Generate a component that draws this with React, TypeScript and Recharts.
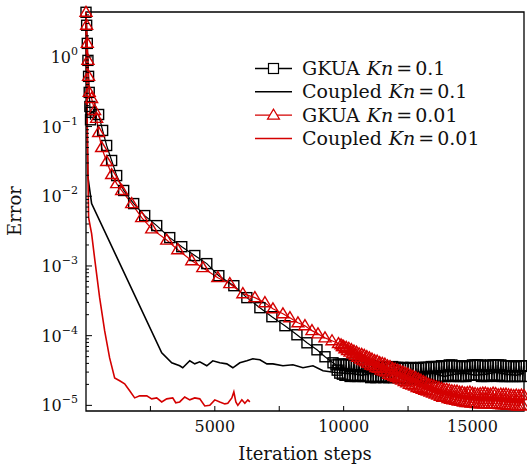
import React from 'react';
import { LineChart, Line, XAxis, YAxis, ReferenceArea } from 'recharts';

const FONT = '"DejaVu Serif", serif';
const RED = '#d40000';
const TAIL_STEP = 50; // tails are sampled every 50 iterations

// [iteration, error]
const gkuaKn01Head: [number, number][] = [
  [0, 4.36], [25, 2.84], [50, 1.56], [75, 0.89], [100, 0.525], [125, 0.309],
  [150, 0.194], [175, 0.125], [200, 0.16], [490, 0.149], [645, 0.088],
  [801, 0.0535], [995, 0.0326], [1190, 0.0198], [1462, 0.0121], [1850, 0.00785],
  [2278, 0.00528], [2744, 0.00379], [3250, 0.00255], [3716, 0.00189],
  [4222, 0.00141], [4688, 0.00108], [5155, 0.000725], [5738, 0.000521],
  [6243, 0.000351], [6749, 0.000252], [7215, 0.000187], [7720, 0.000139],
  [8187, 0.000103], [8576, 7.9e-5], [8965, 6.27e-5], [9276, 4.98e-5], [9587, 4.08e-5],
];
const gkuaKn01TailStart = 9700;
const gkuaKn01TailE5 = [
  3.8, 3.2, 3.9, 2.9, 3.9, 2.8, 3.9, 2.7, 3.8, 2.7, 3.9, 2.6, 3.8, 2.7, 3.8, 2.6,
  3.8, 2.6, 3.7, 2.7, 3.7, 2.6, 3.6, 2.6, 3.7, 2.6, 3.6, 2.5, 3.7, 2.6, 3.6, 2.5,
  3.6, 2.6, 3.5, 2.6, 3.6, 2.5, 3.6, 2.6, 3.5, 2.5, 3.5, 2.6, 3.6, 2.5, 3.5, 2.6,
  3.5, 2.5, 3.4, 2.5, 3.5, 2.5, 3.4, 2.4, 3.4, 2.5, 3.5, 2.5, 3.4, 2.4, 3.4, 2.5,
  3.4, 2.5, 3.5, 2.5, 3.5, 2.5, 3.5, 2.6, 3.5, 2.5, 3.6, 2.5, 3.6, 2.6, 3.6, 2.5,
  3.6, 2.6, 3.7, 2.6, 3.7, 2.6, 3.7, 2.7, 3.8, 2.6, 3.8, 2.6, 3.7, 2.7, 3.7, 2.6,
  3.7, 2.6, 3.6, 2.6, 3.6, 2.6, 3.7, 2.7, 3.7, 2.7, 3.8, 2.7, 3.8, 2.7, 3.8, 2.7,
  3.8, 2.6, 3.7, 2.6, 3.7, 2.6, 3.7, 2.7, 3.8, 2.7, 3.8, 2.7, 3.8, 2.6, 3.8, 2.7,
  3.8, 2.6, 3.7, 2.6, 3.7, 2.6, 3.7, 2.6, 3.7, 2.6, 3.6, 2.6, 3.6, 2.6, 3.7, 2.6,
  3.7, 2.6, 3.7,
];

const coupledKn01: [number, number][] = [
  [0, 4.36], [45, 0.1], [70, 0.0195], [218, 0.00785], [2939, 5.68e-5],
  [3327, 4.08e-5], [3637, 3.7e-5], [3755, 3.46e-5], [4027, 4.36e-5], [4221, 3.94e-5],
  [4416, 4.21e-5], [4688, 3.7e-5], [4921, 4.36e-5], [5193, 4.08e-5], [5465, 3.94e-5],
  [5699, 3.46e-5], [5971, 4.08e-5], [6243, 4.36e-5], [6476, 4.66e-5], [6749, 4.5e-5],
  [7021, 3.94e-5], [7254, 3.94e-5], [7643, 3.7e-5], [8031, 3.82e-5], [8420, 3.46e-5],
  [8809, 3.7e-5], [9198, 3.13e-5], [9742, 2.93e-5], [10364, 2.84e-5], [10700, 2.7e-5],
  [11100, 2.9e-5], [11500, 2.6e-5], [11900, 2.8e-5], [12300, 3.0e-5], [12700, 2.7e-5],
  [13100, 2.8e-5], [13500, 2.9e-5], [13900, 2.6e-5], [14300, 2.8e-5], [14700, 2.9e-5],
  [15100, 2.7e-5], [15500, 2.8e-5], [15900, 3.0e-5], [16300, 2.8e-5], [16700, 2.7e-5],
  [17000, 2.9e-5],
];

const gkuaKn001Head: [number, number][] = [
  [0, 4.36], [25, 2.84], [50, 1.56], [75, 0.89], [100, 0.525], [125, 0.309],
  [218, 0.253], [334, 0.17], [412, 0.131], [490, 0.082], [606, 0.05], [801, 0.0315],
  [995, 0.0205], [1190, 0.0152], [1384, 0.0121], [1773, 0.00785], [2161, 0.00494],
  [2550, 0.0034], [3133, 0.00235], [3561, 0.00171], [4105, 0.00119], [4533, 0.000945],
  [5116, 0.000679], [5582, 0.000557], [6088, 0.0004], [6555, 0.000351], [6944, 0.000297],
  [7255, 0.000243], [7643, 0.000206], [7915, 0.000181], [8226, 0.000153], [8498, 0.000139],
  [8770, 0.000118], [9004, 0.000106], [9276, 9.3e-5], [9548, 8.45e-5], [9800, 7.7e-5],
];
const gkuaKn001TailStart = 9900;
const gkuaKn001TailE5 = [
  7.4, 7.0, 7.0, 6.5, 6.8, 6.1, 6.6, 5.8, 6.3, 5.5, 6.0, 5.2, 5.8, 4.9, 5.5, 4.6,
  5.4, 4.4, 5.2, 4.2, 5.0, 4.0, 4.8, 3.8, 4.6, 3.7, 4.4, 3.5, 4.3, 3.4, 4.1, 3.2,
  4.0, 3.1, 3.9, 3.0, 3.7, 2.8, 3.6, 2.7, 3.4, 2.6, 3.3, 2.5, 3.2, 2.4, 3.1, 2.3,
  3.0, 2.2, 2.9, 2.1, 2.8, 2.0, 2.7, 1.95, 2.6, 1.9, 2.5, 1.8, 2.4, 1.75, 2.3, 1.7,
  2.2, 1.65, 2.1, 1.6, 2.0, 1.55, 1.95, 1.5, 1.9, 1.45, 1.85, 1.4, 1.8, 1.35, 1.75, 1.3,
  1.7, 1.3, 1.7, 1.25, 1.65, 1.22, 1.62, 1.2, 1.6, 1.18, 1.6, 1.15, 1.55, 1.14, 1.55, 1.12,
  1.5, 1.1, 1.52, 1.1, 1.55, 1.08, 1.5, 1.08, 1.48, 1.06, 1.45, 1.05, 1.48, 1.05, 1.5, 1.05,
  1.5, 1.06, 1.46, 1.05, 1.45, 1.04, 1.5, 1.05, 1.48, 1.05, 1.42, 1.03, 1.45, 1.02, 1.44, 1.02,
  1.45, 1.0, 1.42, 1.0, 1.4, 1.0, 1.38, 0.99, 1.4, 0.98, 1.38, 0.98,
  1.4, 1.0, 1.38,
];

const coupledKn001: [number, number][] = [
  [0, 4.36], [62, 0.045], [101, 0.00494], [218, 0.00291], [346, 0.00119], [529, 0.000351],
  [723, 0.000118], [917, 4.8e-5], [1112, 2.48e-5], [1306, 2.25e-5], [1500, 2.04e-5],
  [1695, 1.62e-5], [1889, 1.28e-5], [2084, 1.37e-5], [2359, 1.37e-5], [2550, 1.24e-5],
  [2744, 1.28e-5], [2939, 1.12e-5], [3133, 1.24e-5], [3366, 1.28e-5], [3483, 1.09e-5],
  [3637, 1.12e-5], [3832, 1.32e-5], [4027, 1.2e-5], [4221, 1.28e-5], [4416, 1.24e-5],
  [4610, 9.8e-6], [4805, 1.0e-5], [4999, 1.2e-5], [5193, 1.12e-5], [5388, 1.05e-5],
  [5504, 1.07e-5], [5660, 1.28e-5], [5738, 1.56e-5], [5816, 1.12e-5], [5893, 1.0e-5],
  [6049, 1.2e-5], [6165, 1.07e-5], [6282, 1.2e-5], [6360, 1.12e-5],
];

const xTicks = [2500, 5000, 7500, 10000, 12500, 15000];
const xLabelled = [5000, 10000, 15000];
const yDecades = [1e-5, 1e-4, 1e-3, 1e-2, 1e-1, 1];
const yMinorSteps = [1, 2, 3, 4, 5, 6, 7, 8, 9];
const X_DOMAIN: [number, number] = [0, 17000];
const Y_DOMAIN: [number, number] = [8.3e-6, 4.4];

const legendItems = [
  { name: 'GKUA', kn: '0.1', color: '#000', marker: 'square' },
  { name: 'Coupled', kn: '0.1', color: '#000', marker: 'none' },
  { name: 'GKUA', kn: '0.01', color: RED, marker: 'triangle' },
  { name: 'Coupled', kn: '0.01', color: RED, marker: 'none' },
];

const toPoints = (pts: [number, number][]) => pts.map(([x, y]) => ({ x, y }));
const tailPoints = (start: number, valsE5: number[]) =>
  valsE5.map((v, i) => ({ x: start + i * TAIL_STEP, y: v * 1e-5 }));

const gkuaKn01Data = [...toPoints(gkuaKn01Head), ...tailPoints(gkuaKn01TailStart, gkuaKn01TailE5)];
const gkuaKn001Data = [...toPoints(gkuaKn001Head), ...tailPoints(gkuaKn001TailStart, gkuaKn001TailE5)];
const coupledKn01Data = toPoints(coupledKn01);
const coupledKn001Data = toPoints(coupledKn001);

const yTicks = yDecades
  .flatMap((d) => yMinorSteps.map((m) => d * m))
  .filter((v) => v >= Y_DOMAIN[0] && v <= Y_DOMAIN[1]);

const SquareDot = (p: any) => {
  const { cx, cy, index } = p;
  if (cx == null || cy == null) return <g key={`sq-${index}`} />;
  return (
    <rect key={`sq-${index}`} x={cx - 5} y={cy - 5} width={10} height={10}
      fill="none" stroke="#000" strokeWidth={1.4} />
  );
};

const TriangleDot = (p: any) => {
  const { cx, cy, index } = p;
  if (cx == null || cy == null) return <g key={`tr-${index}`} />;
  return (
    <polygon key={`tr-${index}`}
      points={`${cx},${cy - 6} ${cx - 6},${cy + 4} ${cx + 6},${cy + 4}`}
      fill="none" stroke={RED} strokeWidth={1.4} />
  );
};

const renderXTick = (props: any) => {
  const { x, y, payload } = props;
  const v = payload.value;
  return (
    <g>
      <line x1={x} x2={x} y1={y} y2={y - 5} stroke="#000" strokeWidth={1} />
      {xLabelled.includes(v) && (
        <text x={x} y={y + 21} textAnchor="middle" fontFamily={FONT} fontSize={16} fill="#111">
          {v}
        </text>
      )}
    </g>
  );
};

const renderYTick = (props: any) => {
  const { x, y, payload } = props;
  const v = payload.value;
  const lg = Math.log10(v);
  const major = Math.abs(lg - Math.round(lg)) < 1e-6;
  const exp = Math.round(lg);
  return (
    <g>
      <line x1={x} x2={x + (major ? 6 : 3)} y1={y} y2={y} stroke="#000" strokeWidth={1} />
      {major && (
        <text x={x - 8} y={y + 6} textAnchor="end" fontFamily={FONT} fontSize={16} fill="#111">
          <tspan>10</tspan>
          <tspan dy={-8} fontSize={11}>{exp === 0 ? '0' : `\u2212${Math.abs(exp)}`}</tspan>
        </text>
      )}
    </g>
  );
};

function Overlay() {
  const rowY = [75, 98.3, 121.6, 145];
  return (
    <svg width={527} height={469} style={{ position: 'absolute', left: 0, top: 0, pointerEvents: 'none' }}>
      <text x={305} y={460} textAnchor="middle" fontFamily={FONT} fontSize={18} fill="#111">
        Iteration steps
      </text>
      <text x={21} y={211} transform="rotate(-90, 21, 211)" textAnchor="middle" fontFamily={FONT} fontSize={18} fill="#111">
        Error
      </text>
      {legendItems.map((it, i) => {
        const by = rowY[i];
        const sy = by - 6.5;
        return (
          <g key={i}>
            <line x1={255} x2={292} y1={sy} y2={sy} stroke={it.color} strokeWidth={1.4} />
            {it.marker === 'square' && (
              <rect x={268.5} y={sy - 5} width={10} height={10} fill="#fff" stroke="#000" strokeWidth={1.2} />
            )}
            {it.marker === 'triangle' && (
              <polygon points={`273.5,${sy - 6} 267.5,${sy + 4} 279.5,${sy + 4}`} fill="#fff" stroke={RED} strokeWidth={1.2} />
            )}
            <text x={302} y={by} fontFamily={FONT} fontSize={19} fill="#111">
              {it.name}
              <tspan dx={7} fontStyle="italic">Kn</tspan>
              <tspan dx={3}>=</tspan>
              <tspan dx={3}>{it.kn}</tspan>
            </text>
          </g>
        );
      })}
    </svg>
  );
}

export default function App() {
  return (
    <div style={{ position: 'absolute', left: 0, top: 0, width: 527, height: 469, background: '#fff' }}>
      <LineChart width={527} height={469} margin={{ top: 12, right: 3, bottom: 28, left: 16 }}>
        <XAxis dataKey="x" type="number" domain={X_DOMAIN} ticks={xTicks} interval={0}
          tick={renderXTick} tickLine={false} axisLine={false} tickSize={0} tickMargin={0} height={30} />
        <YAxis type="number" scale="log" domain={Y_DOMAIN} ticks={yTicks} interval={0}
          tick={renderYTick} tickLine={false} axisLine={false} tickSize={0} tickMargin={0} width={70} />
        <ReferenceArea x1={X_DOMAIN[0]} x2={X_DOMAIN[1]} y1={Y_DOMAIN[0]} y2={Y_DOMAIN[1]}
          fill="none" fillOpacity={0} stroke="#000" strokeWidth={1.3} />
        <Line data={gkuaKn01Data} dataKey="y" type="linear" stroke="#000" strokeWidth={1.2}
          dot={SquareDot} activeDot={false} isAnimationActive={false} />
        <Line data={coupledKn01Data} dataKey="y" type="linear" stroke="#000" strokeWidth={1.6}
          dot={false} activeDot={false} isAnimationActive={false} />
        <Line data={gkuaKn001Data} dataKey="y" type="linear" stroke={RED} strokeWidth={1.2}
          dot={TriangleDot} activeDot={false} isAnimationActive={false} />
        <Line data={coupledKn001Data} dataKey="y" type="linear" stroke={RED} strokeWidth={1.6}
          dot={false} activeDot={false} isAnimationActive={false} />
      </LineChart>
      <Overlay />
    </div>
  );
}
